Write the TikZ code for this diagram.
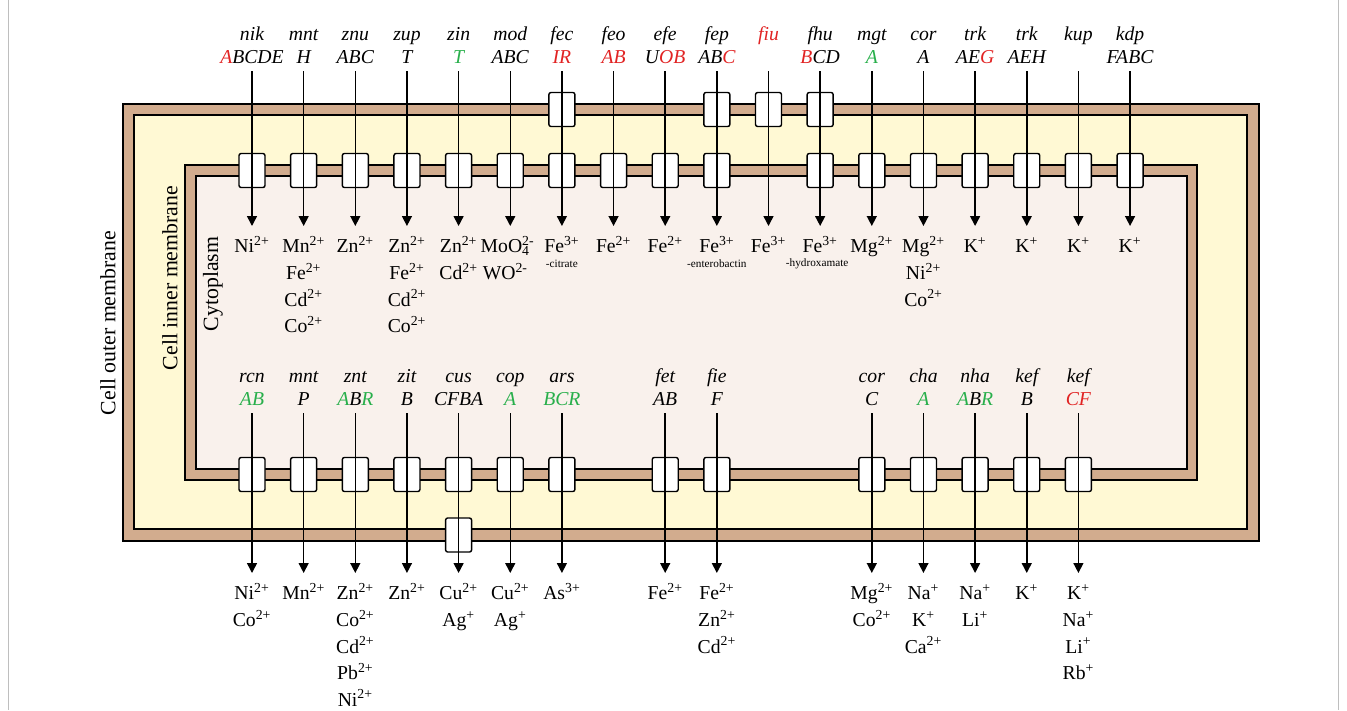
\documentclass[tikz,border=0pt]{standalone}
\usepackage{fontspec}
\setmainfont{Liberation Serif}
\usetikzlibrary{arrows.meta}
\definecolor{membrown}{RGB}{210,172,142}
\definecolor{periyellow}{RGB}{255,249,212}
\definecolor{cytopink}{RGB}{249,241,236}
\definecolor{framegray}{RGB}{190,190,190}
\definecolor{genered}{RGB}{225,35,35}
\definecolor{genegreen}{RGB}{40,175,75}
\newcommand{\rd}[1]{\textcolor{genered}{#1}}
\newcommand{\gr}[1]{\textcolor{genegreen}{#1}}
\newcommand{\chg}[1]{\textsuperscript{#1}}
\newcommand{\colx}[1]{252+51.65*#1}
% gene name over operon letters
\newcommand{\gl}[2]{\strut#1\\#2\strut}
\tikzset{
  membrane/.style={draw=black, fill=membrown, line width=1pt},
  transporter/.style={
    draw=black, fill=white, line width=1pt,
    rounded corners=1.5pt, minimum width=0.65cm,
    minimum height=0.85cm, inner sep=0pt
  },
  genelabel/.style={
    font=\fontsize{14}{17}\selectfont\itshape, align=center,
    anchor=north, inner sep=0pt
  },
  ionlabel/.style={
    font=\fontsize{14}{18.9}\selectfont, align=center,
    anchor=north, inner xsep=0pt, inner ysep=5.7pt
  },
  ionnote/.style={font=\fontsize{8}{9}\selectfont, inner sep=0pt},
  sidelabel/.style={font=\fontsize{15.5}{18}\selectfont, rotate=90, inner sep=0pt},
  flux/.style={
    -{Triangle[length=7pt,width=7pt]},
    draw=black, line width=1.05pt
  },
}

\begin{document}
\begin{tikzpicture}[x=0.025cm, y=-0.025cm]

  \useasboundingbox (0,0) rectangle (1347,710);
  \draw[framegray, line width=0.6pt] (8,0) -- (8,710);
  \draw[framegray, line width=0.6pt] (1338,0) -- (1338,710);

  %% membranes
  \draw[membrane] (123,104) rectangle (1259,541);
  \draw[draw=black, fill=periyellow, line width=1pt] (134,115) rectangle (1247,529);
  \draw[membrane] (185,165) rectangle (1197,480);
  \draw[draw=black, fill=cytopink, line width=1pt] (196,176) rectangle (1187,469);

  \node[sidelabel] (lOuter) at (108,323) {Cell outer membrane};
  \node[sidelabel] (lInner) at (170,278) {Cell inner membrane};
  \node[sidelabel] (lCyto) at (213,284) {Cytoplasm};

  %% transporters
  \foreach \i in {6,9,10,11}
    \node[transporter] (tOT\i) at ({\colx{\i}},109.5) {};
  \foreach \i in {0,...,9,11,12,...,17}
    \node[transporter] (tIT\i) at ({\colx{\i}},170.5) {};
  \foreach \i in {0,...,6,8,9,12,13,...,16}
    \node[transporter] (tIB\i) at ({\colx{\i}},474.5) {};
  \node[transporter] (tOB4) at ({\colx{4}},535) {};

  %% uptake systems
  \node[genelabel] (gT0) at ({\colx{0}},23) {\gl{nik}{\rd{A}BCDE}};
  \node[genelabel] (gT1) at ({\colx{1}},23) {\gl{mnt}{H}};
  \node[genelabel] (gT2) at ({\colx{2}},23) {\gl{znu}{ABC}};
  \node[genelabel] (gT3) at ({\colx{3}},23) {\gl{zup}{T}};
  \node[genelabel] (gT4) at ({\colx{4}},23) {\gl{zin}{\gr{T}}};
  \node[genelabel] (gT5) at ({\colx{5}},23) {\gl{mod}{ABC}};
  \node[genelabel] (gT6) at ({\colx{6}},23) {\gl{fec}{\rd{IR}}};
  \node[genelabel] (gT7) at ({\colx{7}},23) {\gl{feo}{\rd{AB}}};
  \node[genelabel] (gT8) at ({\colx{8}},23) {\gl{efe}{U\rd{OB}}};
  \node[genelabel] (gT9) at ({\colx{9}},23) {\gl{fep}{AB\rd{C}}};
  \node[genelabel] (gT10) at ({\colx{10}},23) {\gl{\rd{fiu}}{}};
  \node[genelabel] (gT11) at ({\colx{11}},23) {\gl{fhu}{\rd{B}CD}};
  \node[genelabel] (gT12) at ({\colx{12}},23) {\gl{mgt}{\gr{A}}};
  \node[genelabel] (gT13) at ({\colx{13}},23) {\gl{cor}{A}};
  \node[genelabel] (gT14) at ({\colx{14}},23) {\gl{trk}{AE\rd{G}}};
  \node[genelabel] (gT15) at ({\colx{15}},23) {\gl{trk}{AEH}};
  \node[genelabel] (gT16) at ({\colx{16}},23) {\gl{kup}{}};
  \node[genelabel] (gT17) at ({\colx{17}},23) {\gl{kdp}{FABC}};

  \node[ionlabel] (iT0) at ({\colx{0}},226) {\strut Ni\chg{2+}};
  \node[ionlabel] (iT1) at ({\colx{1}},226) {\strut Mn\chg{2+}\\Fe\chg{2+}\\Cd\chg{2+}\\Co\chg{2+}};
  \node[ionlabel] (iT2) at ({\colx{2}},226) {\strut Zn\chg{2+}};
  \node[ionlabel] (iT3) at ({\colx{3}},226) {\strut Zn\chg{2+}\\Fe\chg{2+}\\Cd\chg{2+}\\Co\chg{2+}};
  \node[ionlabel] (iT4) at ({\colx{4}},226) {\strut Zn\chg{2+}\\Cd\chg{2+}};
  \node[ionlabel] (iT5) at ({\colx{5}-5},226) {\strut MoO\rlap{\chg{2-}}\textsubscript{4}\\WO\chg{2-}};
  \node[ionlabel] (iT6) at ({\colx{6}},226) {\strut Fe\chg{3+}};
  \node[ionlabel] (iT7) at ({\colx{7}},226) {\strut Fe\chg{2+}};
  \node[ionlabel] (iT8) at ({\colx{8}},226) {\strut Fe\chg{2+}};
  \node[ionlabel] (iT9) at ({\colx{9}},226) {\strut Fe\chg{3+}};
  \node[ionlabel] (iT10) at ({\colx{10}},226) {\strut Fe\chg{3+}};
  \node[ionlabel] (iT11) at ({\colx{11}},226) {\strut Fe\chg{3+}};
  \node[ionlabel] (iT12) at ({\colx{12}},226) {\strut Mg\chg{2+}};
  \node[ionlabel] (iT13) at ({\colx{13}},226) {\strut Mg\chg{2+}\\Ni\chg{2+}\\Co\chg{2+}};
  \node[ionlabel] (iT14) at ({\colx{14}},226) {\strut K\chg{+}};
  \node[ionlabel] (iT15) at ({\colx{15}},226) {\strut K\chg{+}};
  \node[ionlabel] (iT16) at ({\colx{16}},226) {\strut K\chg{+}};
  \node[ionlabel] (iT17) at ({\colx{17}},226) {\strut K\chg{+}};

  \node[ionnote] (nCitrate) at ({\colx{6}},264) {-citrate};
  \node[ionnote] (nEntero) at ({\colx{9}},264) {-enterobactin};
  \node[ionnote] (nHydrox) at ({\colx{11}-3},264) {-hydroxamate};

  \foreach \i in {0,...,17}
    \draw[flux] (gT\i.south) -- (gT\i.south |- iT\i.north);

  %% efflux systems
  \node[genelabel] (gB0) at ({\colx{0}},365) {\gl{rcn}{\gr{AB}}};
  \node[genelabel] (gB1) at ({\colx{1}},365) {\gl{mnt}{P}};
  \node[genelabel] (gB2) at ({\colx{2}},365) {\gl{znt}{\gr{A}B\gr{R}}};
  \node[genelabel] (gB3) at ({\colx{3}},365) {\gl{zit}{B}};
  \node[genelabel] (gB4) at ({\colx{4}},365) {\gl{cus}{CFBA}};
  \node[genelabel] (gB5) at ({\colx{5}},365) {\gl{cop}{\gr{A}}};
  \node[genelabel] (gB6) at ({\colx{6}},365) {\gl{ars}{\gr{BCR}}};
  \node[genelabel] (gB8) at ({\colx{8}},365) {\gl{fet}{AB}};
  \node[genelabel] (gB9) at ({\colx{9}},365) {\gl{fie}{F}};
  \node[genelabel] (gB12) at ({\colx{12}},365) {\gl{cor}{C}};
  \node[genelabel] (gB13) at ({\colx{13}},365) {\gl{cha}{\gr{A}}};
  \node[genelabel] (gB14) at ({\colx{14}},365) {\gl{nha}{\gr{A}B\gr{R}}};
  \node[genelabel] (gB15) at ({\colx{15}},365) {\gl{kef}{B}};
  \node[genelabel] (gB16) at ({\colx{16}},365) {\gl{kef}{\rd{CF}}};

  \node[ionlabel] (iB0) at ({\colx{0}},573) {\strut Ni\chg{2+}\\Co\chg{2+}};
  \node[ionlabel] (iB1) at ({\colx{1}},573) {\strut Mn\chg{2+}};
  \node[ionlabel] (iB2) at ({\colx{2}},573) {\strut Zn\chg{2+}\\Co\chg{2+}\\Cd\chg{2+}\\Pb\chg{2+}\\Ni\chg{2+}};
  \node[ionlabel] (iB3) at ({\colx{3}},573) {\strut Zn\chg{2+}};
  \node[ionlabel] (iB4) at ({\colx{4}},573) {\strut Cu\chg{2+}\\Ag\chg{+}};
  \node[ionlabel] (iB5) at ({\colx{5}},573) {\strut Cu\chg{2+}\\Ag\chg{+}};
  \node[ionlabel] (iB6) at ({\colx{6}},573) {\strut As\chg{3+}};
  \node[ionlabel] (iB8) at ({\colx{8}},573) {\strut Fe\chg{2+}};
  \node[ionlabel] (iB9) at ({\colx{9}},573) {\strut Fe\chg{2+}\\Zn\chg{2+}\\Cd\chg{2+}};
  \node[ionlabel] (iB12) at ({\colx{12}},573) {\strut Mg\chg{2+}\\Co\chg{2+}};
  \node[ionlabel] (iB13) at ({\colx{13}},573) {\strut Na\chg{+}\\K\chg{+}\\Ca\chg{2+}};
  \node[ionlabel] (iB14) at ({\colx{14}},573) {\strut Na\chg{+}\\Li\chg{+}};
  \node[ionlabel] (iB15) at ({\colx{15}},573) {\strut K\chg{+}};
  \node[ionlabel] (iB16) at ({\colx{16}},573) {\strut K\chg{+}\\Na\chg{+}\\Li\chg{+}\\Rb\chg{+}};

  \foreach \i in {0,...,6,8,9,12,13,...,16}
    \draw[flux] (gB\i.south) -- (gB\i.south |- iB\i.north);

\end{tikzpicture}
\end{document}
